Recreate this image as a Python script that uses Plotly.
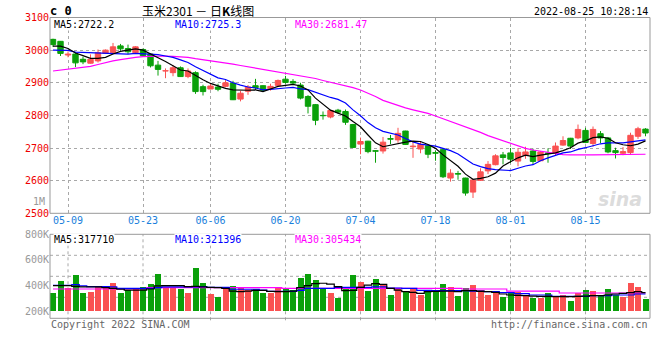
import plotly.graph_objects as go

# ---------------- data ----------------
dates = [
    "05-05", "05-06", "05-09", "05-10", "05-11", "05-12", "05-13", "05-16", "05-17", "05-18",
    "05-19", "05-20", "05-23", "05-24", "05-25", "05-26", "05-27", "05-30", "05-31",
    "06-01", "06-02", "06-06", "06-07", "06-08", "06-09", "06-10", "06-13", "06-14", "06-15",
    "06-16", "06-17", "06-20", "06-21", "06-22", "06-23", "06-24", "06-27", "06-28", "06-29", "06-30",
    "07-01", "07-04", "07-05", "07-06", "07-07", "07-08", "07-11", "07-12", "07-13", "07-14",
    "07-15", "07-18", "07-19", "07-20", "07-21", "07-22", "07-25", "07-26", "07-27", "07-28", "07-29",
    "08-01", "08-02", "08-03", "08-04", "08-05", "08-08", "08-09", "08-10", "08-11", "08-12",
    "08-15", "08-16", "08-17", "08-18", "08-19", "08-22", "08-23", "08-24", "08-25",
]
tick_labels = ["05-09", "05-23", "06-06", "06-20", "07-04", "07-18", "08-01", "08-15"]

opens = [3033, 3027, 2985, 2988, 2972, 2960, 2967, 2990, 2993, 3013,
         3005, 2992, 3002, 2988, 2954, 2936, 2931, 2946, 2919, 2931,
         2888, 2881, 2887, 2889, 2899, 2850, 2874, 2891, 2891, 2882,
         2892, 2911, 2904, 2893, 2858, 2833, 2800, 2795, 2816, 2812,
         2772, 2712, 2721, 2692, 2691, 2729, 2725, 2752, 2704, 2697,
         2707, 2686, 2695, 2608, 2622, 2608, 2565, 2601, 2630, 2649,
         2679, 2685, 2660, 2677, 2691, 2661, 2685, 2684, 2709, 2730,
         2731, 2754, 2714, 2744, 2731, 2692, 2684, 2686, 2736, 2758]
highs = [3035, 3028, 2996, 2993, 2980, 2987, 3002, 3002, 3022, 3019,
         3017, 3012, 3005, 2990, 2967, 2944, 2954, 2950, 2944, 2935,
         2894, 2899, 2897, 2908, 2906, 2875, 2893, 2912, 2892, 2897,
         2910, 2921, 2911, 2900, 2862, 2835, 2812, 2817, 2820, 2818,
         2774, 2732, 2722, 2693, 2734, 2740, 2762, 2753, 2720, 2719,
         2708, 2692, 2700, 2635, 2630, 2609, 2603, 2638, 2660, 2681,
         2688, 2700, 2700, 2704, 2698, 2691, 2699, 2717, 2736, 2731,
         2772, 2762, 2766, 2752, 2734, 2701, 2703, 2747, 2765, 2761]
lows = [3010, 2982, 2978, 2948, 2957, 2959, 2962, 2988, 2991, 2998,
        2988, 2990, 2980, 2947, 2922, 2914, 2920, 2918, 2914, 2866,
        2861, 2880, 2874, 2886, 2847, 2843, 2863, 2878, 2874, 2876,
        2889, 2897, 2894, 2849, 2806, 2770, 2787, 2791, 2805, 2771,
        2700, 2681, 2684, 2655, 2683, 2712, 2716, 2710, 2670, 2684,
        2669, 2661, 2608, 2597, 2603, 2554, 2547, 2599, 2620, 2647,
        2650, 2654, 2644, 2667, 2649, 2660, 2655, 2676, 2707, 2697,
        2727, 2715, 2704, 2715, 2684, 2668, 2678, 2679, 2728, 2736]
closes = [3017, 2990, 2988, 2961, 2964, 2972, 2992, 3000, 3010, 3004,
          2995, 3010, 2983, 2952, 2941, 2937, 2946, 2919, 2936, 2873,
          2873, 2890, 2880, 2900, 2848, 2868, 2887, 2885, 2877, 2889,
          2907, 2901, 2899, 2853, 2828, 2785, 2799, 2815, 2810, 2779,
          2702, 2720, 2689, 2690, 2718, 2727, 2745, 2711, 2706, 2711,
          2681, 2684, 2612, 2623, 2620, 2562, 2602, 2627, 2650, 2676,
          2671, 2666, 2687, 2688, 2659, 2688, 2683, 2706, 2723, 2706,
          2757, 2717, 2757, 2731, 2688, 2686, 2689, 2739, 2759, 2746]

ma5 = [3012, 3012, 3005, 2991, 2983, 2975, 2975, 2978, 2988, 2996,
       3000, 3004, 3000, 2989, 2976, 2965, 2952, 2939, 2936, 2922,
       2909, 2898, 2890, 2883, 2878, 2877, 2877, 2878, 2873, 2881,
       2889, 2892, 2895, 2890, 2878, 2853, 2833, 2816, 2807, 2798,
       2781, 2765, 2740, 2716, 2704, 2709, 2714, 2718, 2721, 2720,
       2711, 2699, 2679, 2662, 2644, 2620, 2604, 2607, 2612, 2623,
       2645, 2658, 2670, 2678, 2674, 2678, 2681, 2685, 2692, 2701,
       2715, 2722, 2732, 2734, 2730, 2716, 2710, 2707, 2712, 2722]
ma10 = [3000, 3000, 2999, 2994, 2993, 2992, 2992, 2991, 2990, 2990,
        2988, 2990, 2989, 2988, 2986, 2982, 2978, 2970, 2962, 2949,
        2937, 2925, 2915, 2910, 2900, 2893, 2887, 2884, 2878, 2880,
        2883, 2884, 2886, 2881, 2879, 2871, 2862, 2855, 2849, 2838,
        2817, 2799, 2778, 2762, 2751, 2745, 2740, 2729, 2719, 2712,
        2710, 2706, 2699, 2692, 2682, 2666, 2651, 2643, 2637, 2634,
        2633, 2631, 2638, 2645, 2649, 2661, 2670, 2677, 2685, 2688,
        2696, 2701, 2708, 2713, 2716, 2715, 2716, 2719, 2723, 2725]
ma30 = [2936, 2939, 2942, 2944, 2946, 2950, 2956, 2962, 2967, 2971,
        2975, 2978, 2980, 2981, 2982, 2982, 2981, 2980, 2978, 2974,
        2971, 2968, 2965, 2961, 2957, 2953, 2949, 2945, 2941, 2938,
        2934, 2930, 2926, 2922, 2918, 2913, 2907, 2902, 2897, 2891,
        2885, 2878, 2869, 2858, 2846, 2838, 2830, 2823, 2817, 2812,
        2806, 2798, 2790, 2780, 2772, 2765, 2758, 2748, 2738, 2730,
        2722, 2714, 2706, 2699, 2694, 2690, 2686, 2682, 2680, 2679,
        2678, 2679, 2679, 2679, 2679, 2680, 2680, 2681, 2681, 2681]

volumes = [343000, 435000, 383000, 482000, 341000, 349000, 390000, 377000, 419000, 341000,
           362000, 377000, 388000, 411000, 490000, 390000, 390000, 372000, 341000, 539000,
           422000, 333000, 312000, 383000, 396000, 377000, 364000, 370000, 341000, 343000,
           383000, 383000, 362000, 461000, 490000, 443000, 377000, 341000, 304000, 377000,
           482000, 427000, 356000, 450000, 403000, 325000, 372000, 356000, 383000, 325000,
           351000, 356000, 411000, 388000, 317000, 380000, 403000, 362000, 325000, 346000,
           310000, 338000, 349000, 320000, 304000, 304000, 343000, 320000, 325000, 278000,
           343000, 364000, 356000, 325000, 372000, 325000, 312000, 419000, 388000, 294000]
vol_ma5 = [398000, 398000, 398000, 393000, 388000, 388000, 388000, 383000, 377000, 370000,
           364000, 364000, 364000, 372000, 396000, 398000, 398000, 398000, 390000, 393000,
           388000, 385000, 383000, 377000, 356000, 351000, 356000, 362000, 362000, 354000,
           351000, 351000, 356000, 383000, 398000, 414000, 417000, 411000, 390000, 359000,
           362000, 385000, 403000, 414000, 409000, 377000, 364000, 351000, 346000, 338000,
           351000, 354000, 356000, 356000, 351000, 359000, 359000, 354000, 351000, 346000,
           333000, 325000, 323000, 320000, 317000, 315000, 315000, 312000, 312000, 312000,
           315000, 317000, 320000, 320000, 325000, 333000, 338000, 343000, 351000, 343000]
vol_ma10 = [401000, 401000, 401000, 406000, 396000, 390000, 390000, 390000, 388000, 377000,
            377000, 377000, 377000, 377000, 383000, 388000, 388000, 388000, 388000, 388000,
            390000, 385000, 385000, 385000, 370000, 370000, 370000, 370000, 364000, 354000,
            354000, 354000, 354000, 362000, 377000, 377000, 377000, 377000, 385000, 385000,
            385000, 385000, 385000, 388000, 388000, 380000, 380000, 377000, 377000, 362000,
            362000, 359000, 359000, 359000, 359000, 359000, 356000, 356000, 351000, 351000,
            343000, 343000, 336000, 336000, 325000, 325000, 325000, 315000, 315000, 315000,
            315000, 315000, 320000, 320000, 320000, 325000, 325000, 325000, 333000, 333000]
vol_ma30 = [372000, 372000, 372000, 372000, 372000, 372000, 372000, 372000, 372000, 372000,
            372000, 372000, 372000, 383000, 383000, 383000, 383000, 383000, 383000, 383000,
            383000, 383000, 383000, 383000, 383000, 383000, 383000, 383000, 383000, 383000,
            383000, 377000, 377000, 377000, 377000, 377000, 377000, 377000, 377000, 377000,
            377000, 377000, 377000, 377000, 377000, 377000, 377000, 377000, 377000, 377000,
            377000, 377000, 377000, 377000, 377000, 372000, 372000, 372000, 372000, 372000,
            372000, 356000, 356000, 356000, 356000, 356000, 356000, 356000, 341000, 341000,
            341000, 341000, 341000, 341000, 341000, 341000, 341000, 341000, 341000, 341000]

price_ticks = [2500, 2600, 2700, 2800, 2900, 3000, 3100]
vol_ticks = [200000, 400000, 600000, 800000]
vol_tick_text = ["200K", "400K", "600K", "800K"]

# ---------------- style ----------------
W, H = 660, 360
RED = "#FA5252"
GREEN = "#0AA00A"
GRID = "#A8A8A8"
FRAME = "#999999"
MONO = "DejaVu Sans Mono"
CJK = "Noto Sans CJK SC"


def px(x):
    return x / W


def py(y):
    return 1 - y / H


X0, X1 = 50, 650
P_TOP, P_BOT = 17.5, 213.3
V_TOP, V_BARBOT, V_FRAMEBOT = 234.3, 311.0, 318.3

fig = go.Figure()

# candle wicks (split by colour)
up = [c >= o for o, c in zip(opens, closes)]
for flag, col in ((True, RED), (False, GREEN)):
    wx, wy = [], []
    for d, hi, lo, u in zip(dates, highs, lows, up):
        if u == flag:
            wx += [d, d, None]
            wy += [lo, hi, None]
    fig.add_trace(go.Scatter(x=wx, y=wy, mode="lines", line=dict(color=col, width=1),
                             xaxis="x", yaxis="y", hoverinfo="skip"))

# candle bodies
colors = [RED if u else GREEN for u in up]
fig.add_trace(go.Bar(
    x=dates,
    base=[min(o, c) for o, c in zip(opens, closes)],
    y=[abs(c - o) for o, c in zip(opens, closes)],
    width=0.72,
    marker=dict(color=colors, line=dict(color=colors, width=1)),
    xaxis="x", yaxis="y",
))

# price moving averages
for series, col in ((ma30, "#FF00FF"), (ma10, "#0000FF"), (ma5, "#000000")):
    fig.add_trace(go.Scatter(x=dates, y=series, mode="lines", line=dict(color=col, width=1.2),
                             xaxis="x", yaxis="y"))

# volume bars
fig.add_trace(go.Bar(x=dates, y=volumes, width=0.8, marker=dict(color=colors, line=dict(width=0)),
                     xaxis="x2", yaxis="y2"))
for series, col in ((vol_ma30, "#FF00FF"), (vol_ma10, "#0000FF"), (vol_ma5, "#000000")):
    fig.add_trace(go.Scatter(x=dates, y=series, mode="lines", line=dict(color=col, width=1.2, shape="hvh"),
                             xaxis="x2", yaxis="y2"))

# ---------------- layout ----------------
shapes = []
shapes.append(dict(type="rect", xref="paper", yref="paper", x0=px(X0), x1=px(X1),
                   y0=py(P_BOT), y1=py(P_TOP), line=dict(color=FRAME, width=1)))
shapes.append(dict(type="rect", xref="paper", yref="paper", x0=px(X0), x1=px(X1),
                   y0=py(V_FRAMEBOT), y1=py(V_TOP), line=dict(color=FRAME, width=1)))
step = (V_FRAMEBOT - V_TOP) / 4
for k in (1, 2, 3):
    yy = V_TOP + k * step
    shapes.append(dict(type="line", xref="paper", yref="paper", x0=px(X0), x1=px(X1),
                       y0=py(yy), y1=py(yy), layer="below",
                       line=dict(color=GRID, width=1, dash="dot")))
for t in tick_labels:
    shapes.append(dict(type="line", xref="x2", yref="paper", x0=t, x1=t,
                       y0=py(V_FRAMEBOT + 2), y1=py(V_TOP), layer="below",
                       line=dict(color=GRID, width=1, dash="dot")))

ann = []


def text(x, y, s, color="#000000", size=10, anchor="left", family=MONO, bg=None):
    d = dict(xref="paper", yref="paper", x=px(x), y=py(y), text=s, showarrow=False,
             xanchor=anchor, yanchor="middle", font=dict(family=family, size=size, color=color))
    if bg:
        d["bgcolor"] = bg
        d["borderpad"] = 0
    ann.append(d)


text(48, 10.5, "<b>c 0</b>", size=12)
text(198, 10, "玉米2301 － 日<b>K</b>线图", size=12, anchor="center", family=CJK)
text(650, 11, "2022-08-25 10:28:14", size=10, anchor="right")
text(53, 25, "MA5:2722.2", bg="white")
text(174, 25, "MA10:2725.3", color="#0000FF", bg="white")
text(294, 25, "MA30:2681.47", color="#FF00FF", bg="white")
text(53, 239.5, "MA5:317710", bg="white")
text(174, 239.5, "MA10:321396", color="#0000FF", bg="white")
text(294, 239.5, "MA30:305434", color="#FF00FF", bg="white")
text(47, 201, "1M", color="#999999", anchor="right")
text(49, 324, "Copyright 2022 SINA.COM", color="#666666")
text(650, 324, "http://finance.sina.com.cn", color="#666666", anchor="right")
text(620, 199, "<i><b>sina</b></i>", color="rgba(190,190,190,0.55)", size=19, anchor="center",
     family="DejaVu Sans")

fig.update_layout(
    width=W, height=H,
    margin=dict(l=0, r=0, t=0, b=0),
    paper_bgcolor="white", plot_bgcolor="white",
    showlegend=False, barmode="overlay", bargap=0,
    shapes=shapes, annotations=ann,
    xaxis=dict(domain=[px(X0), px(X1)], type="category", range=[-0.4, 79.6],
               categoryorder="array", categoryarray=dates,
               tickvals=tick_labels, ticktext=tick_labels, ticks="",
               tickfont=dict(family=MONO, size=10, color="#1A7FDC"),
               showgrid=True, gridcolor=GRID, griddash="dot", gridwidth=1,
               showline=False, zeroline=False, anchor="y", automargin=False, fixedrange=True),
    yaxis=dict(domain=[py(P_BOT), py(P_TOP)], range=[2500, 3100],
               tickvals=price_ticks, ticks="",
               tickfont=dict(family=MONO, size=10, color="#EE0000"),
               showgrid=True, gridcolor=GRID, griddash="dot", gridwidth=1,
               zeroline=False, showline=False, anchor="x", automargin=False, fixedrange=True),
    xaxis2=dict(domain=[px(X0), px(X1)], type="category", matches="x",
                categoryorder="array", categoryarray=dates,
                showticklabels=False, showgrid=False, zeroline=False, showline=False,
                anchor="y2", automargin=False, fixedrange=True),
    yaxis2=dict(domain=[py(V_BARBOT), py(V_TOP)], range=[200000, 800000],
                tickvals=vol_ticks, ticktext=vol_tick_text, ticks="",
                tickfont=dict(family=MONO, size=10, color="#999999"),
                showgrid=False, zeroline=False, showline=False, anchor="x2",
                automargin=False, fixedrange=True),
)

fig.write_html("out.html", config={"displayModeBar": False, "staticPlot": True},
               post_script="document.body.style.margin='0';document.body.style.padding='0';")
